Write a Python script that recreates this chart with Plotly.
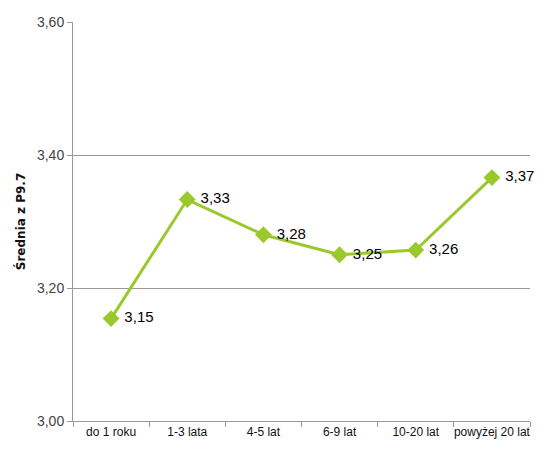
import plotly.graph_objects as go

categories = ["do 1 roku", "1-3 lata", "4-5 lat", "6-9 lat", "10-20 lat", "powyżej 20 lat"]
values = [3.154, 3.333, 3.280, 3.250, 3.257, 3.366]
labels = ["3,15", "3,33", "3,28", "3,25", "3,26", "3,37"]
y_ticks = [3.00, 3.20, 3.40, 3.60]
y_tick_text = ["3,00", "3,20", "3,40", "3,60"]

green = "#9AC92E"
font_family = "Liberation Sans, Arial, sans-serif"

fig = go.Figure(go.Scatter(
    x=categories, y=values, mode="lines+markers+text",
    line=dict(color=green, width=3),
    marker=dict(symbol="diamond", size=13, color=green),
    text=[" " + t for t in labels], textposition="middle right",
    textfont=dict(family=font_family, size=15, color="#000000"),
    cliponaxis=False,
))

fig.update_layout(
    width=539, height=459,
    margin=dict(l=73, r=9, t=22, b=38, autoexpand=False),
    paper_bgcolor="white", plot_bgcolor="white",
    showlegend=False,
    font=dict(family=font_family),
    xaxis=dict(
        type="category", range=[-0.5, 5.5], tickangle=0, automargin=False,
        showline=True, linecolor="#999999", linewidth=1,
        ticks="outside", tickson="boundaries", ticklen=5, tickcolor="#999999",
        showgrid=False,
        tickfont=dict(family=font_family, size=12, color="#111111"),
    ),
    yaxis=dict(
        range=[3.0, 3.6], tickvals=y_ticks, ticktext=y_tick_text, automargin=False,
        showline=True, linecolor="#999999", linewidth=1,
        ticks="outside", ticklen=5, tickcolor="#999999",
        showgrid=True, gridcolor="#999999", gridwidth=1,
        zeroline=False,
        tickfont=dict(family=font_family, size=14, color="#444444"),
        title=dict(text="<b>Średnia z P9.7</b>", standoff=8,
                   font=dict(family="DejaVu Sans, sans-serif", size=12, color="#111111")),
    ),
)

fig.write_html("out.html", config={"displayModeBar": False},
               post_script="document.body.style.margin='0';")
